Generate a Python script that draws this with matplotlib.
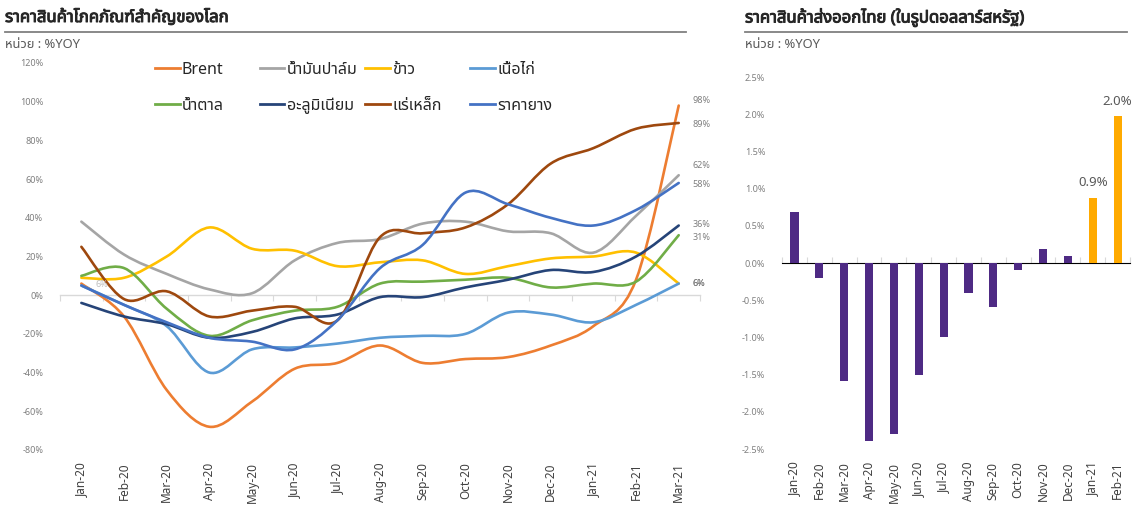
import matplotlib
matplotlib.use("Agg")
import matplotlib.pyplot as plt
from matplotlib import font_manager
from matplotlib.ft2font import FT2Font
from matplotlib.path import Path
from matplotlib.patches import PathPatch
from matplotlib.lines import Line2D
from matplotlib.legend import Legend
from matplotlib.ticker import FuncFormatter
import matplotlib.patheffects as pe
import numpy as np


def thai_family():
    # pick an installed family that really has Thai glyphs
    have = set()
    for f in font_manager.fontManager.ttflist:
        try:
            if FT2Font(f.fname).get_char_index(ord("ก")):
                have.add(f.name)
        except Exception:
            pass
    for name in ["Noto Sans Thai", "Noto Sans Thai UI", "Anuphan", "Bai Jamjuree",
                 "Kanit", "Prompt", "IBM Plex Sans Thai", "Sarabun"]:
        if name in have:
            return name
    return sorted(have)[0] if have else "DejaVu Sans"


plt.rcParams['font.family'] = [thai_family(), 'Noto Sans', 'DejaVu Sans']

# ---- data: left chart (world commodity prices, %YoY) ----
months = ["Jan-20", "Feb-20", "Mar-20", "Apr-20", "May-20", "Jun-20", "Jul-20",
          "Aug-20", "Sep-20", "Oct-20", "Nov-20", "Dec-20", "Jan-21", "Feb-21", "Mar-21"]

brent = [6, -11, -49, -68, -55, -38, -35, -26, -35, -33, -32, -26, -16, 8, 98]
palm_oil = [38, 21, 11, 3, 1, 18, 27, 29, 37, 38, 33, 32, 22, 41, 62]
rice = [9, 9, 20, 35, 24, 23, 15, 17, 18, 11, 15, 19, 20, 22, 6]
chicken = [5, -5, -16, -40, -28, -27, -25, -22, -21, -20, -9, -10, -14, -5, 6]
sugar = [10, 14, -7, -21, -13, -8, -6, 6, 7, 8, 9, 4, 6, 7, 31]
aluminium = [-4, -11, -15, -22, -19, -12, -10, -1, -1, 4, 8, 13, 12, 20, 36]
iron_ore = [25, -2, 2, -11, -8, -6, -13, 30, 32, 35, 47, 68, 76, 86, 89]
rubber = [5, -5, -14, -22, -24, -28, -13, 14, 26, 53, 47, 40, 36, 44, 58]

# ---- data: right chart (Thai export prices in USD, %YoY) ----
export_months = months[:-1]
export_prices = [0.68, -0.2, -1.59, -2.39, -2.3, -1.5, -0.99, -0.4, -0.59, -0.1,
                 0.19, 0.09, 0.88, 1.97]

series = [
    ("Brent", brent, "#ED7D31", 4),
    ("น้ำมันปาล์ม", palm_oil, "#A5A5A5", 7),
    ("ข้าว", rice, "#FFC000", 0),
    ("เนื้อไก่", chicken, "#5B9BD5", 0),
    ("น้ำตาล", sugar, "#70AD47", -2),
    ("อะลูมิเนียม", aluminium, "#264478", 1),
    ("แร่เหล็ก", iron_ore, "#9E480E", -1),
    ("ราคายาง", rubber, "#4472C4", -1),
]


def smooth_path(xs, ys):
    # excel-like smoothed line: cubic bezier with catmull-rom control points
    pts = np.column_stack([xs, ys]).astype(float)
    ext = np.vstack([pts[0], pts, pts[-1]])
    verts = [pts[0]]
    codes = [Path.MOVETO]
    for i in range(len(pts) - 1):
        p0, p1, p2, p3 = ext[i], ext[i + 1], ext[i + 2], ext[i + 3]
        verts += [p1 + (p2 - p0) / 6, p2 - (p3 - p1) / 6, p2]
        codes += [Path.CURVE4] * 3
    return Path(verts, codes)


fig = plt.figure(figsize=(11.37, 5.08), dpi=100)

label_gray = "#7F7F7F"
tick_gray = "#404040"
axis_gray = "#D9D9D9"

# ================= left chart =================
ax = fig.add_axes([0.0528, 0.1142, 0.5629, 0.7618])
x = np.arange(len(months))
handles = []
for name, vals, color, _ in series:
    ax.add_patch(PathPatch(smooth_path(x, vals), fill=False, edgecolor=color,
                           linewidth=1.9, capstyle='round', joinstyle='round'))
    handles.append(Line2D([], [], color=color, linewidth=2.0))

ax.set_xlim(-0.5, len(months) - 0.5)
ax.set_ylim(-80, 120)
ax.set_yticks(np.arange(-80, 121, 20))
ax.yaxis.set_major_formatter(FuncFormatter(lambda v, p: f"{v:.0f}%"))
ax.tick_params(axis='y', length=0, labelsize=6.5, labelcolor=label_gray, pad=12)
ax.set_xticks(x)
ax.set_xticklabels(months, rotation=90)
ax.tick_params(axis='x', length=0, labelsize=8.5, labelcolor=tick_gray, pad=9)
for s in ax.spines.values():
    s.set_visible(False)

zero_ax = ax.secondary_xaxis(80 / 200)
zero_ax.set_xticks(np.arange(-0.5, len(months), 1))
zero_ax.tick_params(axis='x', direction='out', length=4, color=axis_gray,
                    labelbottom=False, labeltop=False)
zero_ax.spines['bottom'].set_color(axis_gray)
zero_ax.spines['bottom'].set_linewidth(1.0)

# end-of-series data labels
for name, vals, color, dy in series:
    ax.annotate(f"{vals[-1]:.0f}%", (x[-1], vals[-1]), xytext=(10, dy),
                textcoords='offset points', va='center', ha='left',
                fontsize=6.5, color=label_gray)
ax.annotate(f"{chicken[-1]:.0f}%", (x[0], chicken[0]), xytext=(10, 1),
            textcoords='offset points', va='center', ha='left',
            fontsize=6.5, color="#BFBFBF")

# legend: 4 fixed-width columns of two entries each (like the excel legend)
col_x = [0.148, 0.312, 0.477, 0.641]
for c, cx in enumerate(col_x):
    idx = [c, c + 4]
    leg = Legend(ax, [handles[i] for i in idx], [series[i][0] for i in idx],
                 loc='upper left', bbox_to_anchor=(cx, 1.003),
                 frameon=False, fontsize=11.5, handlelength=1.55,
                 handletextpad=0.15, borderpad=0, borderaxespad=0,
                 labelspacing=1.24, labelcolor="#262626")
    ax.add_artist(leg)

# ================= right chart =================
ax2 = fig.add_axes([0.6878, 0.1161, 0.3061, 0.7323])
x2 = np.arange(len(export_months))
bar_colors = ["#4E2A84"] * 12 + ["#FFAA00"] * 2
ax2.bar(x2, export_prices, width=0.33, color=bar_colors)
ax2.set_xlim(-0.5, len(export_months) - 0.5)
ax2.set_ylim(-2.5, 2.5)
ax2.set_yticks(np.arange(-2.5, 2.51, 0.5))
ax2.yaxis.set_major_formatter(FuncFormatter(lambda v, p: f"{v:.1f}%"))
ax2.tick_params(axis='y', length=0, labelsize=6.5, labelcolor=label_gray, pad=12)
ax2.set_xticks(x2)
ax2.set_xticklabels(export_months, rotation=90)
ax2.tick_params(axis='x', length=0, labelsize=8.5, labelcolor=tick_gray, pad=9)
for s in ax2.spines.values():
    s.set_visible(False)

zero_ax2 = ax2.secondary_xaxis(0.5)
zero_ax2.set_xticks(np.arange(-0.5, len(export_months), 1))
zero_ax2.tick_params(axis='x', direction='out', length=4, color=axis_gray,
                     labelbottom=False, labeltop=False)
zero_ax2.spines['bottom'].set_color(axis_gray)

for xi, v in zip(x2[-2:], export_prices[-2:]):
    ax2.annotate(f"{v:.1f}%", (xi, v), xytext=(0, 6), textcoords='offset points',
                 ha='center', va='bottom', fontsize=9.5, color="#595959")

# ================= titles =================
bold = [pe.withStroke(linewidth=0.7, foreground="#262626")]
fig.text(5 / 1137, 1 - 18 / 508, "ราคาสินค้าโภคภัณฑ์สำคัญของโลก", fontsize=12,
         fontweight='bold', va='center', ha='left', color="#262626", path_effects=bold)
fig.add_artist(Line2D([5 / 1137, 686 / 1137], [1 - 32 / 508] * 2,
                      color="#808080", linewidth=1.3))
fig.text(5 / 1137, 1 - 45 / 508, "หน่วย : %YOY", fontsize=9.3, va='center',
         ha='left', color="#595959")

fig.text(745 / 1137, 1 - 18 / 508, "ราคาสินค้าส่งออกไทย (ในรูปดอลลาร์สหรัฐ)", fontsize=12,
         fontweight='bold', va='center', ha='left', color="#262626", path_effects=bold)
fig.add_artist(Line2D([745 / 1137, 1127 / 1137], [1 - 32 / 508] * 2,
                      color="#808080", linewidth=1.3))
fig.text(745 / 1137, 1 - 45 / 508, "หน่วย : %YOY", fontsize=9.3, va='center',
         ha='left', color="#595959")

fig.savefig("out.png", dpi=100)
